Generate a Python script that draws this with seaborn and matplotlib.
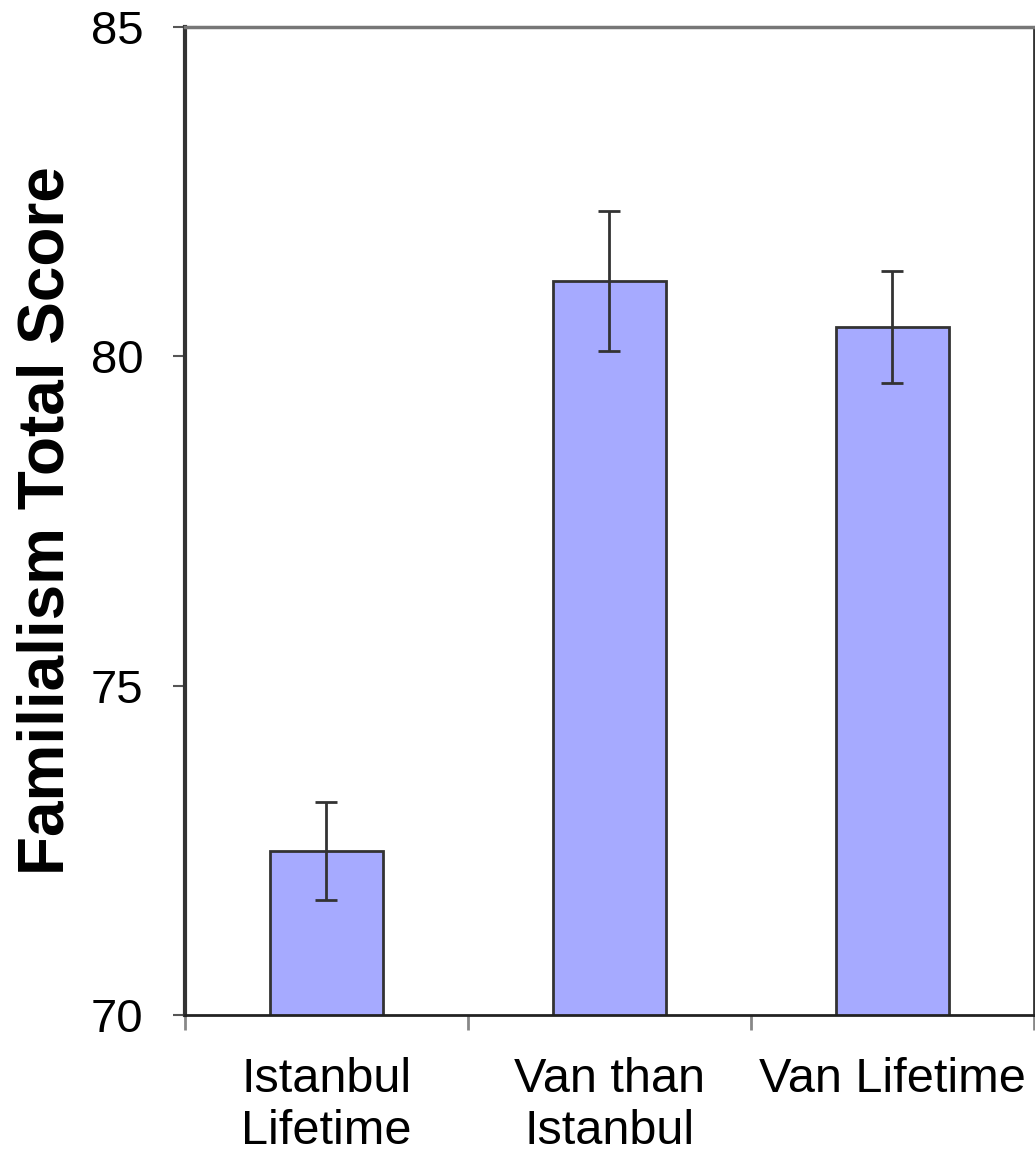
import numpy as np
import pandas as pd
import seaborn as sns
import matplotlib.pyplot as plt

# data
groups = ['Istanbul\nLifetime', 'Van than\nIstanbul', 'Van Lifetime']
scores = [72.49, 81.14, 80.44]
errors = [0.74, 1.06, 0.85]
y_ticks = [70, 75, 80, 85]

df = pd.DataFrame({'group': groups, 'score': scores, 'err': errors})

sns.set_theme(style='white')
plt.rcParams['font.family'] = ['Liberation Sans', 'DejaVu Sans']
plt.rcParams['text.color'] = 'black'
plt.rcParams['axes.labelcolor'] = 'black'
plt.rcParams['xtick.labelcolor'] = 'black'
plt.rcParams['ytick.labelcolor'] = 'black'

fig = plt.figure(figsize=(10.35, 11.58), dpi=100)
ax = fig.add_axes([0.1787, 0.1235, 0.8203, 0.8532])

sns.barplot(data=df, x='group', y='score', color='#A6AAFF', saturation=1,
            width=0.4, edgecolor='#333333', linewidth=2, errorbar=None, ax=ax)
ax.errorbar(x=np.arange(len(groups)), y=df['score'], yerr=df['err'], fmt='none',
            ecolor='#333333', elinewidth=2, capsize=8, capthick=2)

ax.set_ylim(70, 85)
ax.set_xlim(-0.5, 2.5)
ax.set_yticks(y_ticks)
ax.set_yticklabels([str(t) for t in y_ticks], fontsize=34)
ax.set_xticks(np.arange(len(groups)))
ax.set_xticklabels(groups, fontsize=35, linespacing=1.2)
ax.tick_params(axis='x', length=0, pad=30)
ax.tick_params(axis='y', left=True, length=9, width=1.5, color='#555555', pad=21)
# category boundary ticks on x axis
ax.set_xticks([-0.5, 0.5, 1.5, 2.5], minor=True)
ax.tick_params(axis='x', which='minor', bottom=True, length=11, width=2, color='#888888')

ax.set_xlabel('')
ax.set_ylabel('Familialism Total Score', fontsize=46, fontweight='bold', labelpad=10)

ax.spines['left'].set_color('#333333')
ax.spines['left'].set_linewidth(3)
ax.spines['bottom'].set_color('#222222')
ax.spines['bottom'].set_linewidth(2)
ax.spines['top'].set_color('#777777')
ax.spines['top'].set_linewidth(2.5)
ax.spines['right'].set_color('#333333')
ax.spines['right'].set_linewidth(2)

fig.savefig('out.png', dpi=100)
